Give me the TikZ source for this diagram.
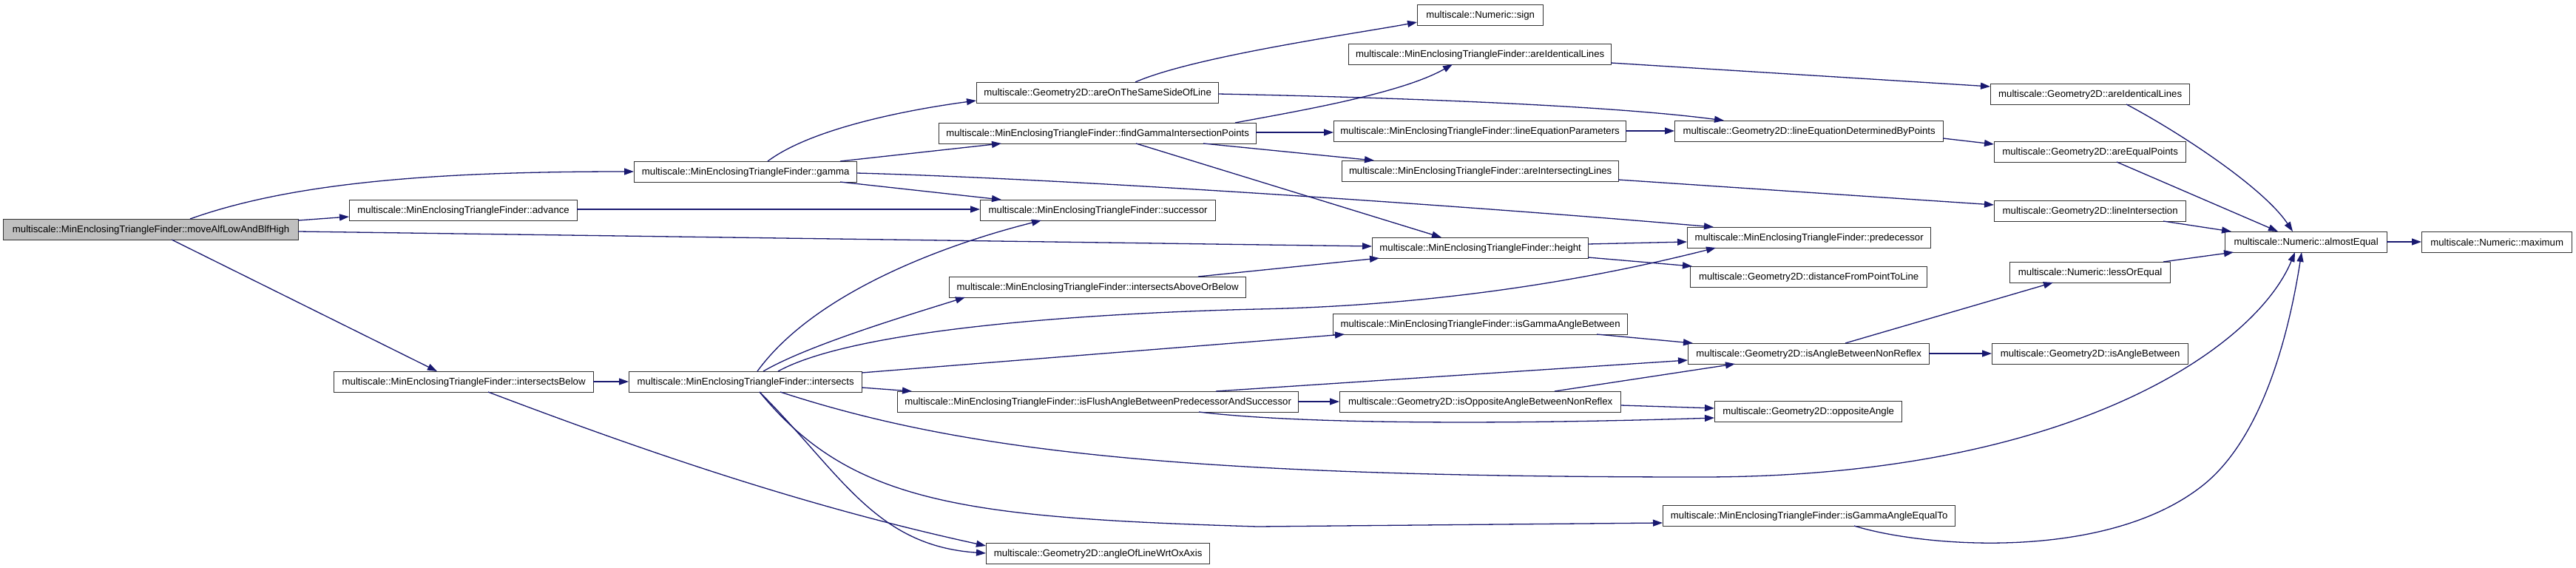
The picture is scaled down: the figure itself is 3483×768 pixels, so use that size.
\documentclass[tikz,border=0pt]{standalone}
\usepackage{fontspec}
\setmainfont{Liberation Sans}
\usetikzlibrary{arrows.meta}
\definecolor{edgec}{HTML}{191970}
\definecolor{boxc}{HTML}{333333}
\definecolor{rootfill}{HTML}{BFBFBF}
\begin{document}
\begin{tikzpicture}[x=1pt,y=-1pt,
  box/.style={draw=boxc, line width=1.3pt, fill=white, minimum height=28pt, inner sep=0pt, anchor=north west, font=\fontsize{13.2}{15}\selectfont},
  call/.style={draw=edgec, line width=1.3pt, -{Triangle[length=13pt,width=9pt]}}]
\fill[white] (0,0) rectangle (3483,768);
\useasboundingbox (0,0) rectangle (3483,768);
% nodes
\node[box, fill=rootfill, minimum width=399pt] (moveAlf) at (4,296) {multiscale::MinEnclosingTriangleFinder::moveAlfLowAndBlfHigh};
\node[box, minimum width=308pt] (advance) at (472,270) {multiscale::MinEnclosingTriangleFinder::advance};
\node[box, minimum width=301pt] (gamma) at (857,218) {multiscale::MinEnclosingTriangleFinder::gamma};
\node[box, minimum width=351pt] (iBelow) at (451,502) {multiscale::MinEnclosingTriangleFinder::intersectsBelow};
\node[box, minimum width=315pt] (inter) at (850,502) {multiscale::MinEnclosingTriangleFinder::intersects};
\node[box, minimum width=327pt] (sameSide) at (1320,111) {multiscale::Geometry2D::areOnTheSameSideOfLine};
\node[box, minimum width=429pt] (findG) at (1269,166) {multiscale::MinEnclosingTriangleFinder::findGammaIntersectionPoints};
\node[box, minimum width=318pt] (succ) at (1325,270) {multiscale::MinEnclosingTriangleFinder::successor};
\node[box, minimum width=401pt] (iAbove) at (1283,374) {multiscale::MinEnclosingTriangleFinder::intersectsAboveOrBelow};
\node[box, minimum width=542pt] (isFlush) at (1213,529) {multiscale::MinEnclosingTriangleFinder::isFlushAngleBetweenPredecessorAndSuccessor};
\node[box, minimum width=302pt] (angleOx) at (1333,734) {multiscale::Geometry2D::angleOfLineWrtOxAxis};
\node[box, minimum width=170pt] (sign) at (1916,6) {multiscale::Numeric::sign};
\node[box, minimum width=355pt] (idLinesM) at (1823,59) {multiscale::MinEnclosingTriangleFinder::areIdenticalLines};
\node[box, minimum width=395pt] (lineEqP) at (1803,163) {multiscale::MinEnclosingTriangleFinder::lineEquationParameters};
\node[box, minimum width=374pt] (interLines) at (1814,217) {multiscale::MinEnclosingTriangleFinder::areIntersectingLines};
\node[box, minimum width=292pt] (height) at (1855,321) {multiscale::MinEnclosingTriangleFinder::height};
\node[box, minimum width=398pt] (isGAB) at (1802,424) {multiscale::MinEnclosingTriangleFinder::isGammaAngleBetween};
\node[box, minimum width=380pt] (isOpp) at (1811,529) {multiscale::Geometry2D::isOppositeAngleBetweenNonReflex};
\node[box, minimum width=395pt] (isGAE) at (2248,683) {multiscale::MinEnclosingTriangleFinder::isGammaAngleEqualTo};
\node[box, minimum width=363pt] (lineEqD) at (2264,163) {multiscale::Geometry2D::lineEquationDeterminedByPoints};
\node[box, minimum width=329pt] (pred) at (2281,307) {multiscale::MinEnclosingTriangleFinder::predecessor};
\node[box, minimum width=320pt] (dist) at (2285,360) {multiscale::Geometry2D::distanceFromPointToLine};
\node[box, minimum width=326pt] (isABNR) at (2282,464) {multiscale::Geometry2D::isAngleBetweenNonReflex};
\node[box, minimum width=253pt] (oppA) at (2318,542) {multiscale::Geometry2D::oppositeAngle};
\node[box, minimum width=269pt] (idLinesG) at (2691,113) {multiscale::Geometry2D::areIdenticalLines};
\node[box, minimum width=259pt] (eqPts) at (2696,191) {multiscale::Geometry2D::areEqualPoints};
\node[box, minimum width=259pt] (lineInt) at (2696,271) {multiscale::Geometry2D::lineIntersection};
\node[box, minimum width=217pt] (lessEq) at (2717,354) {multiscale::Numeric::lessOrEqual};
\node[box, minimum width=265pt] (isAB) at (2693,464) {multiscale::Geometry2D::isAngleBetween};
\node[box, minimum width=219pt] (almostEq) at (3008,313) {multiscale::Numeric::almostEqual};
\node[box, minimum width=203pt] (maximum) at (3274,313) {multiscale::Numeric::maximum};
\coordinate (w1) at (2300,645);
\coordinate (w2) at (1700,712);
\coordinate (w3) at (2980,655);
\coordinate (w4) at (1700,418);
% edges
\draw[call] ([shift={(253,0)}]moveAlf.north west) .. controls +(143,-51) and +(-257,0) .. ([shift={(0,14)}]gamma.north west);
\draw[call] ([shift={(399,2)}]moveAlf.north west) -- ([shift={(0,23)}]advance.north west);
\draw[call] ([shift={(399,17)}]moveAlf.north west) -- ([shift={(0,12)}]height.north west);
\draw[call] ([shift={(228,28)}]moveAlf.north west) -- ([shift={(140,0)}]iBelow.north west);
\draw[call] ([shift={(308,13)}]advance.north west) -- ([shift={(0,13)}]succ.north west);
\draw[call] ([shift={(181,0)}]gamma.north west) .. controls +(60,-45) and +(-90,12) .. ([shift={(0,25)}]sameSide.north west);
\draw[call] ([shift={(279,0)}]gamma.north west) -- ([shift={(85,28)}]findG.north west);
\draw[call] ([shift={(279,28)}]gamma.north west) -- ([shift={(29,0)}]succ.north west);
\draw[call] ([shift={(301,16)}]gamma.north west) .. controls +(300,8) and +(-300,-26) .. ([shift={(36,0)}]pred.north west);
\draw[call] ([shift={(215,0)}]sameSide.north west) .. controls +(80,-35) and +(-80,15) .. ([shift={(0,24)}]sign.north west);
\draw[call] ([shift={(327,16)}]sameSide.north west) .. controls +(250,5) and +(-150,-20) .. ([shift={(67,0)}]lineEqD.north west);
\draw[call] ([shift={(401,0)}]findG.north west) .. controls +(80,-15) and +(-70,40) .. ([shift={(141,28)}]idLinesM.north west);
\draw[call] ([shift={(429,13)}]findG.north west) -- ([shift={(0,16)}]lineEqP.north west);
\draw[call] ([shift={(358,28)}]findG.north west) -- ([shift={(44,0)}]interLines.north west);
\draw[call] ([shift={(267,28)}]findG.north west) -- ([shift={(94,0)}]height.north west);
\draw[call] ([shift={(355,26)}]idLinesM.north west) -- ([shift={(0,4)}]idLinesG.north west);
\draw[call] ([shift={(395,14)}]lineEqP.north west) -- ([shift={(0,14)}]lineEqD.north west);
\draw[call] ([shift={(363,24)}]lineEqD.north west) -- ([shift={(0,4)}]eqPts.north west);
\draw[call] ([shift={(184,28)}]idLinesG.north west) .. controls +(70,37) and +(-40,-60) .. ([shift={(92,0)}]almostEq.north west);
\draw[call] ([shift={(166,28)}]eqPts.north west) -- ([shift={(72,0)}]almostEq.north west);
\draw[call] ([shift={(374,26)}]interLines.north west) -- ([shift={(0,6)}]lineInt.north west);
\draw[call] ([shift={(229,28)}]lineInt.north west) -- ([shift={(9,0)}]almostEq.north west);
\draw[call] ([shift={(292,9)}]height.north west) -- ([shift={(0,20)}]pred.north west);
\draw[call] ([shift={(292,27)}]height.north west) -- ([shift={(3,0)}]dist.north west);
\draw[call] ([shift={(219,14)}]almostEq.north west) -- ([shift={(0,14)}]maximum.north west);
\draw[call] ([shift={(351,14)}]iBelow.north west) -- ([shift={(0,14)}]inter.north west);
\draw[call] ([shift={(209,28)}]iBelow.north west) .. controls +(250,95) and +(-220,-48) .. ([shift={(0,4)}]angleOx.north west);
\draw[call] ([shift={(174,0)}]inter.north west) .. controls +(80,-110) and +(-120,30) .. ([shift={(83,28)}]succ.north west);
\draw[call] ([shift={(182,0)}]inter.north west) .. controls +(60,-35) and +(-80,25) .. ([shift={(22,28)}]iAbove.north west);
\draw[call] ([shift={(202,0)}]inter.north west) .. controls +(100,-55) and +(-250,6) .. (w4) .. controls +(300,-6) and +(-100,25) .. ([shift={(39,28)}]pred.north west);
\draw[call] ([shift={(315,2)}]inter.north west) -- ([shift={(16,28)}]isGAB.north west);
\draw[call] ([shift={(315,22)}]inter.north west) -- ([shift={(20,0)}]isFlush.north west);
\draw[call] ([shift={(205,28)}]inter.north west) .. controls +(245,80) and +(-700,0) .. (w1) .. controls +(500,0) and +(-53,129) .. ([shift={(95,28)}]almostEq.north west);
\draw[call] ([shift={(177,28)}]inter.north west) .. controls +(123,150) and +(-400,-12) .. (w2) -- ([shift={(0,24)}]isGAE.north west);
\draw[call] ([shift={(177,28)}]inter.north west) .. controls +(110,110) and +(-150,-10) .. ([shift={(0,14)}]angleOx.north west);
\draw[call] ([shift={(431,0)}]isFlush.north west) -- ([shift={(0,23)}]isABNR.north west);
\draw[call] ([shift={(542,14)}]isFlush.north west) -- ([shift={(0,14)}]isOpp.north west);
\draw[call] ([shift={(408,28)}]isFlush.north west) .. controls +(150,18) and +(-250,8) .. ([shift={(0,23)}]oppA.north west);
\draw[call] ([shift={(291,0)}]isOpp.north west) -- ([shift={(64,28)}]isABNR.north west);
\draw[call] ([shift={(380,19)}]isOpp.north west) -- ([shift={(0,10)}]oppA.north west);
\draw[call] ([shift={(357,28)}]isGAB.north west) -- ([shift={(7,0)}]isABNR.north west);
\draw[call] ([shift={(213,0)}]isABNR.north west) -- ([shift={(59,28)}]lessEq.north west);
\draw[call] ([shift={(326,14)}]isABNR.north west) -- ([shift={(0,14)}]isAB.north west);
\draw[call] ([shift={(208,0)}]lessEq.north west) -- ([shift={(12,28)}]almostEq.north west);
\draw[call] ([shift={(259,28)}]isGAE.north west) .. controls +(93,29) and +(-130,105) .. (w3) .. controls +(80,-65) and +(-17,109) .. ([shift={(104,28)}]almostEq.north west);
\draw[call] ([shift={(337,0)}]iAbove.north west) -- ([shift={(10,28)}]height.north west);
\end{tikzpicture}
\end{document}
